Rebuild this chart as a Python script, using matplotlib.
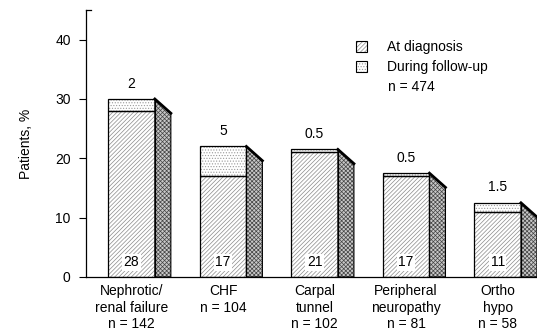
import matplotlib.pyplot as plt
import numpy as np

plt.rcParams['font.family'] = ['Liberation Sans', 'DejaVu Sans']
plt.rcParams['hatch.linewidth'] = 0.5

categories = ['Nephrotic/\nrenal failure\nn = 142', 'CHF\nn = 104', 'Carpal\ntunnel\nn = 102',
              'Peripheral\nneuropathy\nn = 81', 'Ortho\nhypo\nn = 58']
at_diagnosis = [28, 17, 21, 17, 11]
follow_up = [2, 5, 0.5, 0.5, 1.5]
follow_up_labels = ['2', '5', '0.5', '0.5', '1.5']

fig = plt.figure(figsize=(5.37, 3.35), dpi=100)
ax = fig.add_axes([86 / 537, 58 / 335, 451 / 537, 267 / 335])

x = np.arange(len(categories))
width = 0.51
depth_x, depth_y = 0.175, -2.4
total = np.array(at_diagnosis) + np.array(follow_up)

# front faces: hatched diagnosis part, stippled follow-up part on top
ax.bar(x, at_diagnosis, width, color='white', edgecolor='#8a8a8a', hatch='////////', linewidth=0, zorder=2)
ax.bar(x, follow_up, width, bottom=at_diagnosis, color='white', edgecolor='#9a9a9a',
       hatch='......', linewidth=0, zorder=2)
ax.bar(x, at_diagnosis, width, color='none', edgecolor='black', linewidth=0.9, zorder=3)
ax.bar(x, follow_up, width, bottom=at_diagnosis, color='none', edgecolor='black', linewidth=0.9, zorder=3)

# shaded side faces giving the bars some depth
for xi, top in zip(x, total):
    x1 = xi + width / 2
    poly_x = [x1, x1 + depth_x, x1 + depth_x, x1]
    poly_y = [top, top + depth_y, 0, 0]
    ax.fill(poly_x, poly_y, facecolor='#c8c8c8', edgecolor='#444444', hatch='xxxxxxxx', linewidth=0, zorder=2)
    ax.plot(poly_x + [x1], poly_y + [top], color='black', lw=0.8, zorder=3)
    ax.plot([x1, x1 + depth_x], [top, top + depth_y], color='black', lw=2, zorder=3)

# value labels
for xi, top, lab in zip(x, total, follow_up_labels):
    ax.annotate(lab, (xi, top), xytext=(0, 6), textcoords='offset points',
                ha='center', va='bottom', fontsize=10)
for xi, v in zip(x, at_diagnosis):
    ax.text(xi, 2.5, str(v), ha='center', va='center', fontsize=10, zorder=4,
            bbox=dict(facecolor='white', edgecolor='none', pad=1))

ax.set_xlim(-0.497, 4.43)
ax.set_ylim(0, 45)
ax.set_yticks([0, 10, 20, 30, 40])
ax.set_xticks(x)
ax.set_xticklabels(categories, fontsize=10, linespacing=1.25)
ax.tick_params(axis='x', length=0, pad=5)
ax.tick_params(axis='y', direction='out', length=5, labelsize=10, pad=6)
ax.set_ylabel('Patients, %', fontsize=10, labelpad=16)
for s in ['top', 'right']:
    ax.spines[s].set_visible(False)
ax.spines['left'].set_linewidth(0.9)
ax.spines['bottom'].set_linewidth(0.9)
ax.plot([0, 0.012], [1, 1], transform=ax.transAxes, color='black', lw=0.9, clip_on=False)

# legend
lx, ly = 356 / 537, 1 - 47 / 335
for i, (h, c) in enumerate([('////////', '#8a8a8a'), ('......', '#9a9a9a')]):
    yy = ly - i * 20 / 335
    fig.patches.append(plt.Rectangle((lx, yy - 5 / 335), 11 / 537, 11 / 335, transform=fig.transFigure,
                                     facecolor='white', edgecolor=c, hatch=h, lw=0))
    fig.patches.append(plt.Rectangle((lx, yy - 5 / 335), 11 / 537, 11 / 335, transform=fig.transFigure,
                                     facecolor='none', edgecolor='black', lw=0.8))
fig.text(387 / 537, ly, 'At diagnosis', fontsize=10, va='center')
fig.text(387 / 537, ly - 20 / 335, 'During follow-up', fontsize=10, va='center')
fig.text(388 / 537, ly - 40 / 335, 'n = 474', fontsize=10, va='center')

fig.savefig('out.png', dpi=100)
